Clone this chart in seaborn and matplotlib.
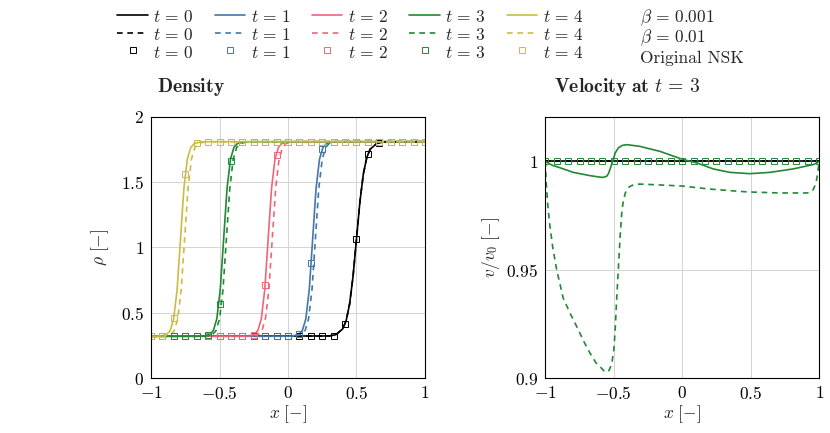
import matplotlib
matplotlib.use("Agg")
import matplotlib.pyplot as plt
import seaborn as sns
from matplotlib.lines import Line2D

sns.set_theme(context="notebook", style="whitegrid")
plt.rcParams.update({
    "font.family": "serif",
    "font.serif": ["cmr10"],
    "mathtext.fontset": "cm",
    "axes.formatter.use_mathtext": True,
    "font.size": 12.5,
})

times = [0, 1, 2, 3, 4]
colors = ["#000000", "#4477AA", "#EE6677", "#228833", "#CCBB44"]

# density front profiles (rho values at the x points of each curve)
rho_front_t0 = [0.32, 0.322, 0.332, 0.377, 0.441, 0.568, 0.780, 1.065, 1.350, 1.562, 1.689, 1.753, 1.798, 1.808, 1.81]
rho_front = [0.32, 0.32, 0.321, 0.334, 0.364, 0.453, 0.675, 1.065, 1.455, 1.677, 1.766, 1.796, 1.809, 1.81, 1.81]

# beta = 0.001 (solid)
x_b001_t0 = [-1, 0.3, 0.35, 0.4, 0.425, 0.45, 0.475, 0.5, 0.525, 0.55, 0.575, 0.6, 0.65, 0.7, 1]
x_b001_t1 = [-1, -0.02, 0.03, 0.08, 0.105, 0.13, 0.155, 0.18, 0.205, 0.23, 0.255, 0.28, 0.33, 0.38, 1]
x_b001_t2 = [-1, -0.345, -0.295, -0.245, -0.22, -0.195, -0.17, -0.145, -0.12, -0.095, -0.07, -0.045, 0.005, 0.055, 1]
x_b001_t3 = [-1, -0.67, -0.62, -0.57, -0.545, -0.52, -0.495, -0.47, -0.445, -0.42, -0.395, -0.37, -0.32, -0.27, 1]
x_b001_t4 = [-1, -0.985, -0.935, -0.885, -0.86, -0.835, -0.81, -0.785, -0.76, -0.735, -0.71, -0.685, -0.635, -0.585, 1]

# beta = 0.01 (dashed)
x_b01_t0 = [-1, 0.3, 0.35, 0.4, 0.425, 0.45, 0.475, 0.5, 0.525, 0.55, 0.575, 0.6, 0.65, 0.7, 1]
x_b01_t1 = [-1, 0.0, 0.05, 0.1, 0.125, 0.15, 0.175, 0.2, 0.225, 0.25, 0.275, 0.3, 0.35, 0.4, 1]
x_b01_t2 = [-1, -0.315, -0.265, -0.215, -0.19, -0.165, -0.14, -0.115, -0.09, -0.065, -0.04, -0.015, 0.035, 0.085, 1]
x_b01_t3 = [-1, -0.65, -0.6, -0.55, -0.525, -0.5, -0.475, -0.45, -0.425, -0.4, -0.375, -0.35, -0.3, -0.25, 1]
x_b01_t4 = [-1, -0.955, -0.905, -0.855, -0.83, -0.805, -0.78, -0.755, -0.73, -0.705, -0.68, -0.655, -0.605, -0.555, 1]

# original NSK (markers)
x_nsk = [-1, -0.9167, -0.8333, -0.75, -0.6667, -0.5833, -0.5, -0.4167, -0.3333, -0.25, -0.1667, -0.0833, 0,
         0.0833, 0.1667, 0.25, 0.3333, 0.4167, 0.5, 0.5833, 0.6667, 0.75, 0.8333, 0.9167, 1]
rho_nsk_t0 = [0.32, 0.32, 0.32, 0.32, 0.32, 0.32, 0.32, 0.32, 0.32, 0.32, 0.32, 0.32, 0.32,
              0.32, 0.32, 0.32, 0.325, 0.415, 1.065, 1.715, 1.80, 1.81, 1.81, 1.81, 1.81]
rho_nsk_t1 = [0.32, 0.32, 0.32, 0.32, 0.32, 0.32, 0.32, 0.32, 0.32, 0.32, 0.32, 0.32, 0.32,
              0.335, 0.88, 1.755, 1.81, 1.81, 1.81, 1.81, 1.81, 1.81, 1.81, 1.81, 1.81]
rho_nsk_t2 = [0.32, 0.32, 0.32, 0.32, 0.32, 0.32, 0.32, 0.32, 0.32, 0.33, 0.71, 1.71, 1.81,
              1.81, 1.81, 1.81, 1.81, 1.81, 1.81, 1.81, 1.81, 1.81, 1.81, 1.81, 1.81]
rho_nsk_t3 = [0.32, 0.32, 0.32, 0.32, 0.32, 0.33, 0.57, 1.66, 1.81, 1.81, 1.81, 1.81, 1.81,
              1.81, 1.81, 1.81, 1.81, 1.81, 1.81, 1.81, 1.81, 1.81, 1.81, 1.81, 1.81]
rho_nsk_t4 = [0.32, 0.325, 0.46, 1.56, 1.80, 1.81, 1.81, 1.81, 1.81, 1.81, 1.81, 1.81, 1.81,
              1.81, 1.81, 1.81, 1.81, 1.81, 1.81, 1.81, 1.81, 1.81, 1.81, 1.81, 1.81]

# velocity at t = 3
x_vel_ref = [-1, 1]
vel_ref = [1.0, 1.0]
x_vel_b001 = [-1.0, -0.95, -0.891, -0.796, -0.674, -0.6, -0.577, -0.552, -0.54, -0.528, -0.516, -0.504, -0.49,
              -0.467, -0.44, -0.406, -0.309, -0.163, 0.007, 0.105, 0.226, 0.348, 0.494, 0.64, 0.81, 0.956, 0.985, 1.0]
vel_b001 = [1.0, 0.9982, 0.997, 0.9949, 0.9934, 0.9927, 0.9926, 0.9931, 0.9942, 0.9962, 0.9985, 1.0008, 1.0038,
            1.0062, 1.0073, 1.0077, 1.0069, 1.0046, 1.0008, 0.9993, 0.9965, 0.9949, 0.9943, 0.9949, 0.9965, 0.9985,
            0.9993, 1.0]
x_vel_b01 = [-1.0, -0.995, -0.985, -0.97, -0.945, -0.917, -0.87, -0.82, -0.771, -0.72, -0.674, -0.63, -0.601,
             -0.575, -0.552, -0.535, -0.515, -0.5, -0.491, -0.48, -0.467, -0.455, -0.442, -0.43, -0.415, -0.4,
             -0.38, -0.35, -0.309, -0.2, 0.0, 0.2, 0.47, 0.713, 0.908, 0.94, 0.956, 0.97, 0.981, 0.99, 1.0]
vel_b01 = [1.0, 0.992, 0.982, 0.972, 0.96, 0.95, 0.937, 0.93, 0.9238, 0.917, 0.9115, 0.907, 0.9053,
           0.9035, 0.9026, 0.9035, 0.9065, 0.913, 0.9208, 0.935, 0.95, 0.964, 0.9762, 0.982, 0.9855, 0.9875,
           0.9885, 0.9893, 0.9895, 0.9892, 0.9886, 0.9872, 0.9859, 0.9854, 0.9854, 0.9858, 0.9869, 0.989,
           0.9915, 0.995, 1.0]
vel_nsk = [1.0] * 25

x_ticks = [-1, -0.5, 0, 0.5, 1]
x_ticklabels = [r"$-1$", r"$-0.5$", r"$0$", r"$0.5$", r"$1$"]
rho_ticks = [0, 0.5, 1, 1.5, 2]
rho_ticklabels = [r"$0$", r"$0.5$", r"$1$", r"$1.5$", r"$2$"]
vel_ticks = [0.9, 0.95, 1]
vel_ticklabels = [r"$0.9$", r"$0.95$", r"$1$"]

FS = 12.5
LW = 1.2
DASH = (0, (3.4, 2.8))
MS = 3.8
MEW = 0.7

x_solid = [x_b001_t0, x_b001_t1, x_b001_t2, x_b001_t3, x_b001_t4]
x_dashed = [x_b01_t0, x_b01_t1, x_b01_t2, x_b01_t3, x_b01_t4]
rho_profiles = [rho_front_t0, rho_front, rho_front, rho_front, rho_front]
rho_nsk = [rho_nsk_t0, rho_nsk_t1, rho_nsk_t2, rho_nsk_t3, rho_nsk_t4]


def style_axes(ax, yticks, yticklabels, ylim, ylabel, ylabelpad):
    ax.set_xlim(-1, 1)
    ax.set_ylim(*ylim)
    ax.set_xticks(x_ticks)
    ax.set_xticklabels(x_ticklabels)
    ax.set_yticks(yticks)
    ax.set_yticklabels(yticklabels)
    ax.set_xlabel(r"$x\ [-]$", labelpad=1, fontsize=FS)
    ax.set_ylabel(ylabel, labelpad=ylabelpad, fontsize=FS)
    ax.set_facecolor("white")
    ax.grid(True, color="#d4d4d4", linewidth=0.7)
    ax.tick_params(axis="both", length=0, pad=5, labelsize=FS, colors="black")
    for s in ax.spines.values():
        s.set_color("black")
        s.set_linewidth(0.8)


fig = plt.figure(figsize=(8.3, 4.33), dpi=100)
fig.patch.set_facecolor("white")
ax1 = fig.add_axes([0.182, 0.127, 0.330, 0.603])
ax2 = fig.add_axes([0.657, 0.127, 0.330, 0.603])

# density
for i in range(len(times)):
    sns.lineplot(x=x_solid[i], y=rho_profiles[i], color=colors[i], lw=LW, sort=False, estimator=None, ax=ax1)
for i in range(len(times)):
    sns.lineplot(x=x_dashed[i], y=rho_profiles[i], color=colors[i], lw=LW, linestyle=DASH, sort=False,
                 estimator=None, ax=ax1)
for i in range(len(times)):
    sns.lineplot(x=x_nsk, y=rho_nsk[i], color=colors[i], linestyle="", marker="s", markersize=MS,
                 markerfacecolor="none", markeredgecolor=colors[i], markeredgewidth=MEW, sort=False,
                 estimator=None, ax=ax1)

# velocity at t = 3
sns.lineplot(x=x_vel_ref, y=vel_ref, color=colors[0], lw=LW, sort=False, estimator=None, ax=ax2)
sns.lineplot(x=x_vel_ref, y=vel_ref, color=colors[0], lw=LW, linestyle=DASH, sort=False, estimator=None, ax=ax2)
sns.lineplot(x=x_vel_b001, y=vel_b001, color=colors[3], lw=LW, sort=False, estimator=None, ax=ax2)
sns.lineplot(x=x_vel_b01, y=vel_b01, color=colors[3], lw=LW, linestyle=DASH, sort=False, estimator=None, ax=ax2)
sns.lineplot(x=x_nsk, y=vel_nsk, color=colors[3], linestyle="", marker="s", markersize=MS,
             markerfacecolor="none", markeredgecolor=colors[3], markeredgewidth=MEW, sort=False,
             estimator=None, ax=ax2)

style_axes(ax1, rho_ticks, rho_ticklabels, (0, 2), r"$\rho\ [-]$", 7)
style_axes(ax2, vel_ticks, vel_ticklabels, (0.9, 1.0205), r"$v/v_0\ [-]$", 3)

ax1.text(0.022, 1.115, r"$\mathbf{Density}$", transform=ax1.transAxes, ha="left", va="center", fontsize=14.2)
ax2.text(0.03, 1.115, r"$\mathbf{Velocity\ at}\ t\,=\,3$", transform=ax2.transAxes, ha="left", va="center",
         fontsize=14.2)

# legend, column by column
handles = []
labels = []
for i, t in enumerate(times):
    handles.append(Line2D([], [], color=colors[i], lw=LW))
    handles.append(Line2D([], [], color=colors[i], lw=LW, linestyle=DASH))
    handles.append(Line2D([], [], linestyle="none", marker="s", markersize=MS, markerfacecolor="none",
                          markeredgecolor=colors[i], markeredgewidth=MEW))
    labels += [rf"$t\,=\,{t}$"] * 3
for lab in [r"$\beta\,=\,0.001$", r"$\beta\,=\,0.01$", "Original NSK"]:
    handles.append(Line2D([], [], linestyle="none"))
    labels.append(lab)

fig.legend(handles, labels, ncol=6, loc="center", bbox_to_anchor=(0.519, 0.915), frameon=False,
           fontsize=FS, handlelength=1.75, handleheight=1.18, handletextpad=0.3, columnspacing=1.22,
           labelspacing=0.0, borderpad=0.0)

fig.savefig("out.png", dpi=100, facecolor="white")
